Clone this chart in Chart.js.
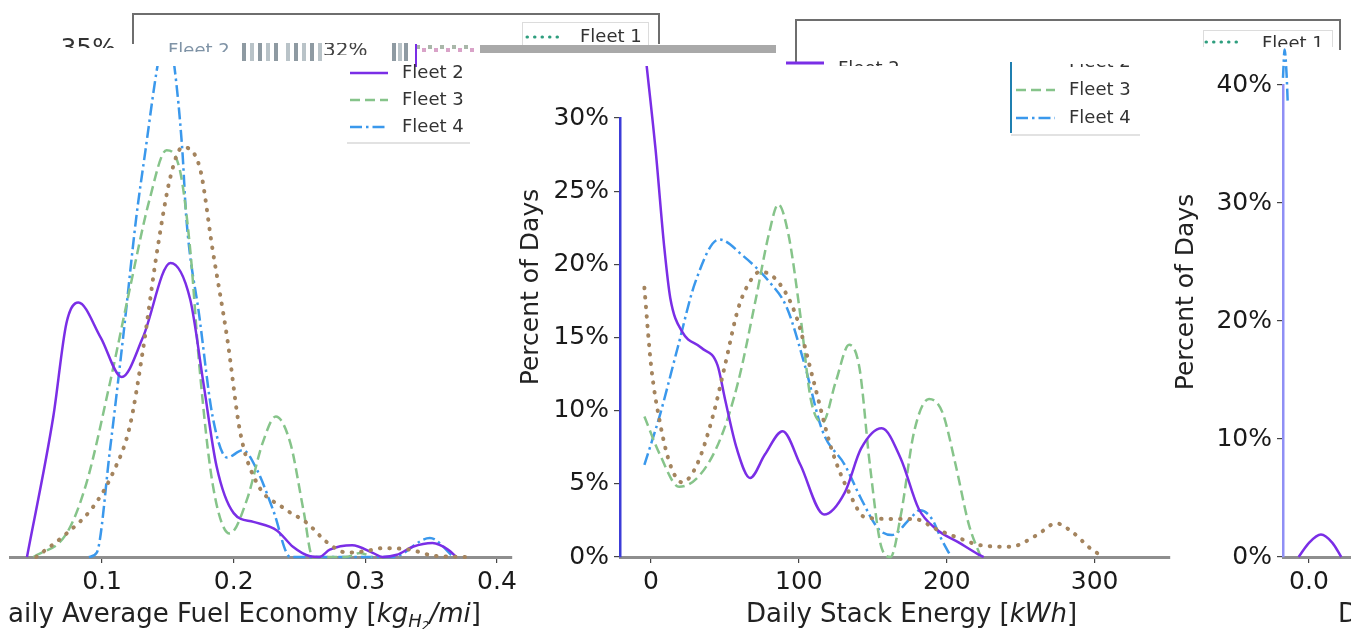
<!DOCTYPE html>
<html>
<head>
<meta charset="utf-8">
<title>Fleet distributions</title>
<script src="https://cdn.jsdelivr.net/npm/chart.js@4.4.1/dist/chart.umd.min.js"></script>
<style>
  html, body { margin: 0; padding: 0; background: #fff; width: 1351px; height: 629px; overflow: hidden; }
  canvas { position: absolute; left: 0; top: 0; }
</style>
</head>
<body>
<canvas id="fuelChart" width="1351" height="629"></canvas>
<canvas id="stackChart" width="1351" height="629"></canvas>
<canvas id="thirdChart" width="1880" height="629"></canvas>
<script>
//----------- data (x, percent of days) -----------
const fuelFleet1 = [[0.050,0],[0.073,1.6],[0.093,3.4],[0.108,5.7],[0.121,8.9],[0.131,14.1],[0.142,21.0],[0.152,26.0],[0.161,28.0],[0.174,26.7],[0.184,21.0],[0.195,15.0],[0.205,8.5],[0.218,5.0],[0.237,3.4],[0.256,2.3],[0.271,1.0],[0.286,0.3],[0.300,0.4],[0.313,0.6],[0.334,0.5],[0.351,0.1],[0.377,0]];
const fuelFleet2 = [[0.043,0],[0.063,9.6],[0.073,16.0],[0.082,17.4],[0.099,15.0],[0.115,12.3],[0.131,15.0],[0.152,20.1],[0.167,17.6],[0.177,11.9],[0.187,6.2],[0.200,3.0],[0.215,2.4],[0.233,1.8],[0.245,0.7],[0.258,0.05],[0.265,0],[0.273,0.5],[0.290,0.8],[0.306,0.27],[0.313,0],[0.324,0.15],[0.336,0.7],[0.351,0.96],[0.363,0.5],[0.369,0]];
const fuelFleet3 = [[0.048,0],[0.073,1.6],[0.088,5.0],[0.106,11.9],[0.121,18.3],[0.136,24.4],[0.149,27.8],[0.159,26.5],[0.167,21.0],[0.174,13.0],[0.184,5.0],[0.197,1.6],[0.210,3.9],[0.222,7.8],[0.232,9.6],[0.243,7.8],[0.253,3.2],[0.260,0],[0.285,0],[0.296,0.27],[0.305,0]];
const fuelFleet4 = [[0.090,0],[0.096,0.3],[0.106,7.3],[0.116,15.0],[0.126,23.2],[0.133,27.8],[0.142,33.5],[0.149,36.5],[0.155,33.5],[0.161,27.8],[0.164,23.2],[0.174,16.4],[0.184,9.6],[0.195,6.8],[0.207,7.3],[0.218,5.9],[0.230,3.2],[0.243,0],[0.321,0],[0.349,1.3],[0.367,0]];

const stackFleet1 = [[-4.5,18.4],[0,13.1],[6,9.2],[13,6.3],[21,5.1],[31,6.3],[42,9.7],[50,13.1],[59,17.0],[68,19.0],[74,19.5],[86,18.8],[98,16.5],[110,12.0],[122,7.4],[134,4.4],[145,2.7],[163,2.6],[178,2.6],[193,1.9],[208,1.3],[223,0.8],[243,0.7],[261,1.5],[274,2.3],[285,1.7],[297,0.6],[306,0]];
const stackFleet2 = [[-3,33.6],[3,27.9],[9,21.1],[13,17.7],[21,15.4],[34,14.3],[45,13.1],[50,10.8],[58,7.4],[67,5.4],[77,7.0],[89,8.6],[101,6.3],[117,2.9],[131,4.4],[142,7.4],[156,8.8],[169,6.7],[181,3.3],[193,1.9],[208,1.0],[221,0.2],[225,0]];
const stackFleet3 = [[-4.5,9.6],[6,7.0],[19,4.8],[33,5.6],[47,8.1],[59,12.0],[71,17.7],[80,22.2],[86,24.1],[93,22.0],[101,16.5],[108,10.8],[116,9.2],[125,12.0],[134,14.5],[141,12.9],[148,6.3],[156,0.6],[162,0],[169,2.9],[178,8.6],[188,10.8],[197,9.9],[206,6.3],[215,2.2],[223,0]];
const stackFleet4 = [[-4.5,6.3],[6,9.7],[18,14.3],[30,18.8],[46,21.7],[62,20.6],[80,18.8],[92,17.0],[104,13.1],[116,8.6],[131,6.3],[142,4.0],[154,1.9],[163,1.5],[175,2.6],[182,3.2],[190,2.6],[196,1.3],[203,0]];

const thirdFleet2 = [[-0.2,0],[0.0,1.2],[0.23,1.9],[0.45,1.2],[0.62,0]];
const thirdFleet4 = [[-0.5,40.6],[-0.47,43.0],[-0.43,40.8],[-0.41,38.6]];

const fuelTicks = [0.1, 0.2, 0.3, 0.4];
const stackTicks = [0, 100, 200, 300];
const thirdTicks = [0, 2.5, 5, 7.5, 10];
const stackPctTicks = [0, 5, 10, 15, 20, 25, 30];
const thirdPctTicks = [0, 10, 20, 30, 40];
const fleetNames = ['Fleet 1', 'Fleet 2', 'Fleet 3', 'Fleet 4'];

//----------- styles -----------
const FONT = 'DejaVu Sans';
const fleetStyle = [
  { color: '#a4845e', legend: '#2e9e7e', dash: [0.5, 9], width: 4, cap: 'round' },
  { color: '#7a2ee6', dash: [], width: 2.5, cap: 'butt' },
  { color: '#86c48a', dash: [10, 5], width: 2.5, cap: 'butt' },
  { color: '#3a98ec', dash: [12, 4, 2.5, 4], width: 2.5, cap: 'butt' }
];

function series(i, pts) {
  const st = fleetStyle[i];
  return {
    label: fleetNames[i],
    data: pts.map(p => ({ x: p[0], y: p[1] })),
    borderColor: st.color,
    borderWidth: st.width,
    borderDash: st.dash,
    borderCapStyle: st.cap,
    pointRadius: 0,
    fill: false,
    cubicInterpolationMode: 'monotone',
    clip: false
  };
}

function xAxis(min, max, ticks, fmt) {
  return {
    type: 'linear', min, max,
    afterBuildTicks: s => { s.ticks = ticks.map(v => ({ value: v })); },
    afterFit: s => { s.height = 72; },
    grid: { display: true, drawOnChartArea: false, drawTicks: true, tickLength: 6, color: '#444', lineWidth: 1.2 },
    border: { display: true, color: '#8e8e8e', width: 3 },
    ticks: { autoSkip: false, maxRotation: 0, padding: 4, color: '#1a1a1a', font: { family: FONT, size: 25 }, callback: fmt }
  };
}

function yAxis(max, ticks, width, lineColor) {
  if (!ticks) return { display: false, min: 0, max };
  return {
    min: 0, max,
    afterBuildTicks: s => { s.ticks = ticks.map(v => ({ value: v })); },
    afterFit: s => { s.width = width; },
    grid: { display: true, drawOnChartArea: false, drawTicks: true, tickLength: 6, color: '#444', lineWidth: 1.2 },
    border: { display: true, color: lineColor, width: 2.5 },
    ticks: { autoSkip: false, padding: 5, color: '#1a1a1a', font: { family: FONT, size: 25 }, callback: v => v + '%' }
  };
}

function makeChart(id, datasets, scales, padding, extra) {
  return new Chart(document.getElementById(id), {
    type: 'line',
    data: { datasets },
    options: {
      responsive: false, animation: false, devicePixelRatio: 1, events: [],
      layout: { padding },
      plugins: { legend: { display: false }, tooltip: { enabled: false } },
      scales
    },
    plugins: extra ? [extra] : []
  });
}

//----------- drawing helpers for titles and the broken legends -----------
function marker(ctx, x1, x2, y, st, color) {
  ctx.save();
  ctx.strokeStyle = color || st.color;
  ctx.lineWidth = st.cap === 'round' ? 3 : 2.5;
  ctx.setLineDash(st.cap === 'round' ? [0.5, 7] : st.dash);
  ctx.lineCap = st.cap;
  ctx.beginPath(); ctx.moveTo(x1, y); ctx.lineTo(x2, y); ctx.stroke();
  ctx.restore();
}

function text(ctx, str, x, y, size, opt) {
  opt = opt || {};
  ctx.save();
  if (opt.clip) { ctx.beginPath(); ctx.rect(...opt.clip); ctx.clip(); }
  ctx.font = (opt.italic ? 'italic ' : '') + size + 'px "' + FONT + '"';
  ctx.fillStyle = opt.color || '#222';
  ctx.textAlign = opt.align || 'left';
  ctx.textBaseline = opt.baseline || 'middle';
  ctx.fillText(str, x, y);
  ctx.restore();
}

function runs(ctx, parts, x, y, clipLeft) {
  ctx.save();
  if (clipLeft !== undefined) { ctx.beginPath(); ctx.rect(clipLeft, 0, 3000, 700); ctx.clip(); }
  ctx.fillStyle = '#222';
  ctx.textBaseline = 'alphabetic';
  parts.forEach(p => {
    ctx.font = (p.i ? 'italic ' : '') + p.s + 'px "' + FONT + '"';
    ctx.fillText(p.t, x, y + (p.dy || 0));
    x += ctx.measureText(p.t).width;
  });
  ctx.restore();
}

function vtext(ctx, str, cx, cy) {
  ctx.save();
  ctx.translate(cx, cy); ctx.rotate(-Math.PI / 2);
  ctx.font = '25px "' + FONT + '"';
  ctx.fillStyle = '#222'; ctx.textAlign = 'center'; ctx.textBaseline = 'middle';
  ctx.fillText(str, 0, 0);
  ctx.restore();
}

function seg(ctx, x1, y1, x2, y2, color, w) {
  ctx.save();
  ctx.strokeStyle = color; ctx.lineWidth = w;
  ctx.beginPath(); ctx.moveTo(x1, y1); ctx.lineTo(x2, y2); ctx.stroke();
  ctx.restore();
}

function drawDecor(ctx) {
  // axis titles
  ctx.save();
  ctx.font = '26px "' + FONT + '"';
  const dW = ctx.measureText('D').width;
  ctx.restore();
  runs(ctx, [
    { t: 'Daily Average Fuel Economy [', s: 26 },
    { t: 'kg', s: 26, i: true },
    { t: 'H', s: 18, i: true, dy: 5 },
    { t: '2', s: 12, i: true, dy: 8 },
    { t: '/mi', s: 26, i: true },
    { t: ']', s: 26 }
  ], 8 - dW, 622, 8.5);
  runs(ctx, [
    { t: 'Daily Stack Energy [', s: 26 },
    { t: 'kWh', s: 26, i: true },
    { t: ']', s: 26 }
  ], 746, 622);
  runs(ctx, [{ t: 'Daily Driving Distance [', s: 26 }, { t: 'mi', s: 26, i: true }, { t: ']', s: 26 }], 1338, 622);
  vtext(ctx, 'Percent of Days', 531, 287);
  vtext(ctx, 'Percent of Days', 1186, 292);

  // first legend frame, blanked inside
  ctx.fillStyle = '#fff';
  ctx.fillRect(134, 15, 524, 51);
  text(ctx, '35%', 116, 56, 25, { align: 'right', baseline: 'alphabetic', clip: [0, 0, 200, 48], color: '#333' });
  seg(ctx, 133, 14, 659, 14, '#6e6e6e', 2);
  seg(ctx, 133, 13, 133, 44, '#6e6e6e', 2);
  seg(ctx, 659, 13, 659, 44, '#6e6e6e', 2);
  text(ctx, 'Fleet 2', 168, 56, 18, { baseline: 'alphabetic', clip: [150, 42, 90, 10], color: '#7f93a6' });
  [242, 250, 258, 266, 274, 286, 294, 302, 310, 318, 392, 398, 404].forEach((bx, k) => {
    ctx.fillStyle = k % 2 ? '#b9c3c8' : '#8e9aa2';
    ctx.fillRect(bx, 43, 4, 18);
  });
  text(ctx, '32%', 323, 51, 20, { color: '#444', clip: [300, 43, 120, 12] });
  for (let dx = 0; dx < 60; dx += 6) {
    ctx.fillStyle = dx % 12 ? '#d9a3c8' : '#a9b7a9';
    ctx.fillRect(416 + dx, 45 + (dx % 12 ? 3 : 0), 4, 4);
  }
  seg(ctx, 416, 44, 416, 67, '#7a2ee6', 2);
  ctx.save();
  ctx.strokeStyle = '#dcdcdc'; ctx.lineWidth = 1;
  ctx.strokeRect(522.5, 22.5, 126, 30);
  ctx.restore();
  marker(ctx, 527, 561, 37, fleetStyle[0], fleetStyle[0].legend);
  text(ctx, fleetNames[0], 580, 37, 18, { color: '#333' });
  ctx.fillStyle = '#a9a9a9';
  ctx.fillRect(480, 45, 296, 8);

  // first legend box
  [1, 2, 3].forEach((i, k) => {
    const y = 73 + k * 27;
    marker(ctx, 350, 388, y, fleetStyle[i]);
    text(ctx, fleetNames[i], 402, y, 18, { color: '#333' });
  });
  seg(ctx, 347, 143, 470, 143, '#d8d8d8', 1.5);

  // second legend frame
  seg(ctx, 796, 20, 1340, 20, '#6e6e6e', 2);
  seg(ctx, 796, 19, 796, 63, '#6e6e6e', 2);
  seg(ctx, 1340, 19, 1340, 50, '#6e6e6e', 2);
  ctx.save();
  ctx.beginPath(); ctx.rect(1190, 0, 160, 47); ctx.clip();
  ctx.strokeStyle = '#dcdcdc'; ctx.lineWidth = 1;
  ctx.strokeRect(1203.5, 30.5, 129, 28);
  ctx.restore();
  marker(ctx, 1206, 1240, 42, fleetStyle[0], fleetStyle[0].legend);
  text(ctx, fleetNames[0], 1262, 44, 18, { color: '#333', clip: [1250, 0, 90, 47] });
  seg(ctx, 786, 63, 824, 63, fleetStyle[1].color, 3);
  text(ctx, fleetNames[1], 838, 69, 18, { color: '#333', clip: [830, 50, 80, 16] });

  // second legend box
  seg(ctx, 1011, 62, 1011, 133, '#1f7fb0', 2);
  text(ctx, fleetNames[1], 1069, 62, 18, { color: '#333', clip: [1060, 64, 80, 8] });
  [2, 3].forEach((i, k) => {
    const y = 90 + k * 28;
    marker(ctx, 1016, 1055, y, fleetStyle[i]);
    text(ctx, fleetNames[i], 1069, y, 18, { color: '#333' });
  });
  seg(ctx, 1011, 135, 1140, 135, '#d8d8d8', 1.5);
}

//----------- charts -----------
makeChart('fuelChart',
  [series(0, fuelFleet1), series(1, fuelFleet2), series(2, fuelFleet3), series(3, fuelFleet4)],
  { x: xAxis(0.0301, 0.4114, fuelTicks, v => v.toFixed(1)), y: yAxis(35) },
  { left: 10, top: 45, right: 839, bottom: 0 });

makeChart('stackChart',
  [series(0, stackFleet1), series(1, stackFleet2), series(2, stackFleet3), series(3, stackFleet4)],
  { x: xAxis(-21, 351, stackTicks, v => String(v)), y: yAxis(30, stackPctTicks, 620, '#3c3cd8') },
  { left: 0, top: 118, right: 181, bottom: 0 });

makeChart('thirdChart',
  [series(1, thirdFleet2), series(3, thirdFleet4)],
  { x: xAxis(-0.5, 10, thirdTicks, v => v.toFixed(1)), y: yAxis(40, thirdPctTicks, 1283, '#8f8ff5') },
  { left: 0, top: 85, right: 51, bottom: 0 },
  { id: 'decor', afterDraw: c => drawDecor(c.ctx) });
</script>
</body>
</html>
